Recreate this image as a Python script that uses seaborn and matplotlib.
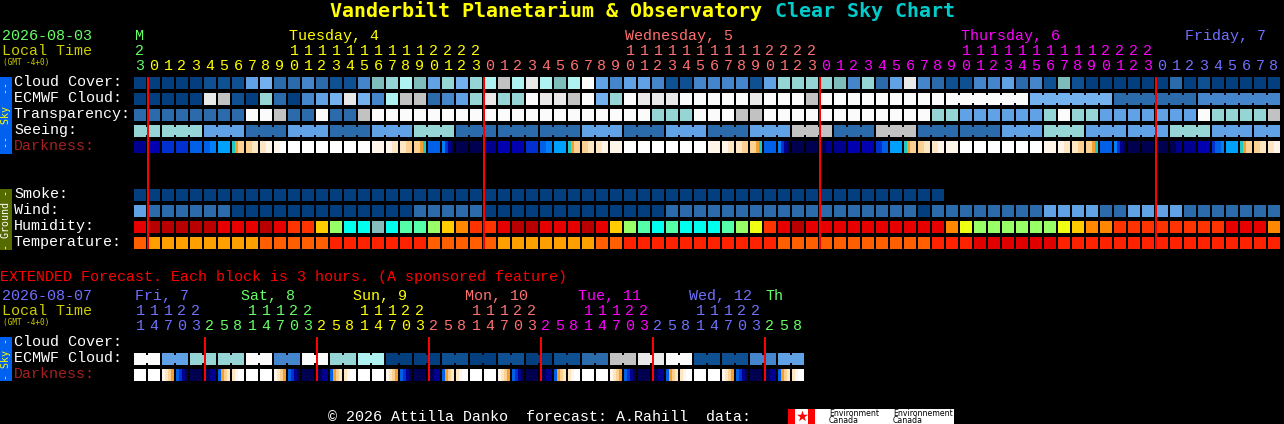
import numpy as np
import seaborn as sns
import matplotlib
matplotlib.use('Agg')
import matplotlib.pyplot as plt
from matplotlib.colors import ListedColormap

W, H = 1284, 424

# forecast rows, one letter per block
cloud_cover = 'AAAAA BBB E F CC D C BB D H G I H E G F G I J I K I H I L E D E E D BB DDDD B E GGGG H D G C E K D C BB DD E C D B H B AAAAAA C A B AAAAA'
ecmwf_cloud = 'AAAAA K J B A G C A D E F K F D I JJ C D E G K GG L KK J L F G L KKK LLLLL K LLL J LLL LLLLLL LLLLLL FFFFFF CCCCCC DDDDDD'
transparency = 'CCCCCCCC LL J CC L CC J LLLL LLLLLLLLLLLLLLLL GGG LLL JJ LLLLLLL LLLLL GG EEEEEE G L GG EEEEEEE L GGGG J'
seeing = 'GG GGG EEE CCC EEE CCC EEE GGG CCC CCC CCC EEE CCC EEE CCC EEE JJJ CCC JJJ CCC CCC EEE GGG EEE EEE GGG EEE EE'
smoke = 'AAAAAAAAAAAAAAAAAAAAAAAAAAAAAAAAAAAAAAAAAAAAAAAAAAAAAAAAAA'
wind = 'E CCCCCC AAAAAAAAAAAAA CCCCC AAAAAAAAAAAAA CCCCCCCCCCCCCC CCCC A CCCCCCCC EEEE CC EEEE CCCCCCC'
humidity = 'b a a a a a b b b a b c c e g i i T i h h g e d c c b a a b b b a b e g h i h i i i h g f c b a b b b b bbbbbb d f gggggg f e d d cccccccc bbb d'
temperature = 'n mmmmmmmm nnnnn ooooooo nnnnn mmmmmmm nn ooooooooooo nnnnnn nnnnn ooo pppppp oooooooooooooooo'
darkness = [
    'bbbb', 'cccc', 'dddd', 'dddd', 'eeee', 'eeff', 'gggg', 'hijj', 'jjkk', 'kkll', 'llmm',
    'mmmm', 'mmmm', 'mmmm', 'mmmm', 'mmmm', 'mmmm', 'llll', 'llkk', 'kkjj', 'jjih', 'eeee', 'fdba', 'aaaa',
    'aaaa', 'bbbb', 'cccc', 'cccc', 'dddd', 'eeff', 'gggg', 'hijj', 'jjkk', 'kkll', 'llll',
    'mmmm', 'mmmm', 'mmmm', 'mmmm', 'mmmm', 'mmmm', 'llll', 'llkk', 'kkjj', 'jjih', 'eeee', 'fdba', 'aaaa',
    'aaaa', 'aabb', 'bbbb', 'cccc', 'cccc', 'ddee', 'gggg', 'hijj', 'jjkk', 'kkll', 'llll',
    'mmmm', 'mmmm', 'mmmm', 'mmmm', 'mmmm', 'mmmm', 'llll', 'llkk', 'kkjj', 'jjih', 'eeee', 'fdba', 'aaaa',
    'aaaa', 'aaaa', 'aabb', 'bbbb', 'cccc', 'deef', 'gggg', 'hijj', 'jjkk', 'kkll',
]
ext_ecmwf = 'LL EE GG GG LL DD LL GG II AA AA BB AA BB AA BB CC JJ KK LL BB BB DD EE'
ext_darkness = [
    'mmmm', 'mmmm', 'lkji', 'edba', 'aaaa', 'aabb', 'eijk', 'klmm',
    'mmmm', 'mmmm', 'lkji', 'edba', 'aaaa', 'aabb', 'eijk', 'klmm',
    'mmmm', 'mmmm', 'lkji', 'edba', 'aaaa', 'aabb', 'eijk', 'klmm',
    'mmmm', 'mmmm', 'lkji', 'edba', 'aaaa', 'aabb', 'eijk', 'klmm',
    'mmmm', 'mmmm', 'lkji', 'edba', 'aaaa', 'aabb', 'eijk', 'klmm',
    'mmmm', 'mmmm', 'lkji', 'edba', 'aaaa', 'aabb', 'eijk', 'klmm',
]

# runs of blocks drawn joined together
seeing_runs = [2] + [3] * 26 + [2]
ecmwf_runs = [1] * 58 + [6, 6, 6, 6]
ext_ecmwf_runs = [2] * 24

# time axis text
hour_tens = '2          11111111112222          11111111112222          11111111112222         '
hour_units = '3012345678901234567890123012345678901234567890123012345678901234567890123012345678'
day_starts = [0, 1, 25, 49, 73]
day_colors = ['#66ff66', '#ffff00', '#ff7070', '#ff00ff', '#7070ff']
top_days = ['M', 'Tuesday, 4', 'Wednesday, 5', 'Thursday, 6', 'Friday, 7']
top_day_idx = [0, 11, 35, 59, 75]
midnights = [1, 25, 49, 73]

ext_units = '147032581470325814703258147032581470325814703258'
ext_tens = '11122   11122   11122   11122   11122   11122'
ext_starts = [0, 5, 13, 21, 29, 37, 45]
ext_colors = ['#7070ff', '#66ff66', '#ffff00', '#ff7070', '#ff00ff', '#7070ff', '#66ff66']
ext_days = ['Fri, 7', 'Sat, 8', 'Sun, 9', 'Mon, 10', 'Tue, 11', 'Wed, 12', 'Th']
ext_day_x = [135, 241, 353, 465, 578, 689, 765]
ext_midnights = [5, 13, 21, 29, 37, 45]

cloud_colors = {'A': '#033f7f', 'B': '#0f5092', 'C': '#2b6bac', 'D': '#4585cb', 'E': '#61a1e5', 'F': '#74b1ef',
                'G': '#95d5d5', 'H': '#7fbdbd', 'I': '#aff2f2', 'J': '#c2c2c2', 'K': '#e9e9e9', 'L': '#fbfbfb'}
humid_colors = {'a': '#b80000', 'b': '#e60000', 'c': '#ff3300', 'd': '#ff8800', 'e': '#ffcc00', 'f': '#eeff11',
                'g': '#99ff66', 'h': '#55ffaa', 'i': '#00ffee', 'T': '#85bdbd'}
temp_colors = {'m': '#ffa000', 'n': '#ff5f00', 'o': '#ff2200', 'p': '#e00000'}
dark_colors = {'a': '#000050', 'b': '#000090', 'c': '#0000b0', 'd': '#0030d0', 'e': '#0060e8', 'f': '#0080f8',
               'g': '#00a0ff', 'h': '#20c8c8', 'i': '#f0a030', 'j': '#fcd090', 'k': '#fde6c4', 'l': '#fff5e8',
               'm': '#ffffff'}

plt.rcParams['font.family'] = ['Liberation Mono', 'DejaVu Sans Mono']

fig = plt.figure(figsize=(W / 100, H / 100), dpi=100, facecolor='black')


def px_axes(x, y, w, h, zorder=1):
    a = fig.add_axes([x / W, 1 - (y + h) / H, w / W, h / H], zorder=zorder)
    a.patch.set_alpha(0)
    a.axis('off')
    return a


def pixel_row(cells, palette, y, n):
    # 14 px pitch: 12 px of block split in 3 px samples, then a 2 px gap
    letters = list(palette)
    vals = np.full((1, n * 14), np.nan)
    for i, cell in enumerate(cells):
        for j, c in enumerate(cell):
            vals[0, i * 14 + j * 3:i * 14 + (j + 1) * 3] = letters.index(c)
    a = px_axes(134, y, n * 14, 12)
    sns.heatmap(vals, ax=a, cmap=ListedColormap(list(palette.values())), vmin=-0.5, vmax=len(letters) - 0.5,
                cbar=False, xticklabels=False, yticklabels=False, antialiased=False)
    a.axis('off')


def block_row(codes, palette, y, n=82):
    pixel_row([c * 4 for c in codes.replace(' ', '')], palette, y, n)


block_row(cloud_cover, cloud_colors, 77)
block_row(ecmwf_cloud, cloud_colors, 93)
block_row(transparency, cloud_colors, 109)
block_row(seeing, cloud_colors, 125)
pixel_row(darkness, dark_colors, 141, 82)
block_row(smoke, cloud_colors, 189)
block_row(wind, cloud_colors, 205)
block_row(humidity, humid_colors, 221)
block_row(temperature, temp_colors, 237)
block_row(ext_ecmwf, cloud_colors, 353, n=48)
pixel_row(ext_darkness, dark_colors, 369, 48)

# everything else lives on one pixel-coordinate overlay
ov = px_axes(0, 0, W, H, zorder=3)


def join_runs(codes, runs, y):
    codes = codes.replace(' ', '')
    i = 0
    for run in runs:
        for k in range(i, i + run - 1):
            ov.bar(134 + 14 * k + 12, 8, width=2, bottom=y + 2, align='edge', color=cloud_colors[codes[k]], lw=0)
        i += run


join_runs(seeing, seeing_runs, 125)
join_runs(ecmwf_cloud, ecmwf_runs, 93)
join_runs(ext_ecmwf, ext_ecmwf_runs, 353)

for m in midnights:
    ov.bar(134 + 14 * m - 1, 172, width=2, bottom=77, align='edge', color='#ff0000', lw=0)
for m in ext_midnights:
    ov.bar(134 + 14 * m, 44, width=2, bottom=337, align='edge', color='#ff0000', lw=0)


def txt(x, y, s, color='white', size=10.8, **kw):
    # y is the text baseline in pixels
    ov.text(x, y, s, color=color, fontsize=size, va=kw.pop('va', 'baseline'), ha=kw.pop('ha', 'left'), **kw)


txt(330, 17, 'Vanderbilt Planetarium & Observatory', '#ffff00', 14.4, fontweight='bold', family='DejaVu Sans Mono')
txt(775, 17, 'Clear Sky Chart', '#00cccc', 14.4, fontweight='bold', family='DejaVu Sans Mono')

txt(2, 40, '2026-08-03', '#66ff66')
txt(2, 55, 'Local Time', '#cccc00')
txt(3, 65, '(GMT -4+0)', '#cccc00', 5.6, family='DejaVu Sans Mono')

for name, idx, c in zip(top_days, top_day_idx, ['#66ff66', '#ffff00', '#ff7070', '#ff00ff', '#7070ff']):
    txt(134 + 14 * idx + 1, 40, name, c)


def day_color(i, starts, colors):
    return colors[np.searchsorted(starts, i, side='right') - 1]


for i, ch in enumerate(hour_units):
    txt(134 + 14 * i + 6, 70, ch, day_color(i, day_starts, day_colors), ha='center')
for i, ch in enumerate(hour_tens):
    if ch != ' ':
        txt(134 + 14 * i + 6, 55, ch, day_color(i, day_starts, day_colors), ha='center')

row_labels = ['Cloud Cover:', 'ECMWF Cloud:', 'Transparency:', 'Seeing:', 'Darkness:']
for k, lab in enumerate(row_labels):
    txt(14, 86 + 16 * k, lab, '#a52020' if lab.startswith('Dark') else 'white')
for k, lab in enumerate(['Smoke:', 'Wind:', 'Humidity:', 'Temperature:']):
    txt(14, 198 + 16 * k, lab)

txt(0, 281, 'EXTENDED Forecast. Each block is 3 hours. (A sponsored feature)', '#ff0000')
txt(2, 300, '2026-08-07', '#7070ff')
txt(2, 315, 'Local Time', '#cccc00')
txt(3, 325, '(GMT -4+0)', '#cccc00', 5.6, family='DejaVu Sans Mono')
for name, x, c in zip(ext_days, ext_day_x, ext_colors):
    txt(x, 300, name, c)
for i, ch in enumerate(ext_units):
    txt(134 + 14 * i + 6, 330, ch, day_color(i, ext_starts, ext_colors), ha='center')
for i, ch in enumerate(ext_tens):
    if ch != ' ':
        txt(134 + 14 * i + 6, 315, ch, ext_colors[i // 8], ha='center')
for k, lab in enumerate(['Cloud Cover:', 'ECMWF Cloud:', 'Darkness:']):
    txt(14, 346 + 16 * k, lab, '#a52020' if lab.startswith('Dark') else 'white')

# side tabs
ov.bar(0, 77, width=12, bottom=77, align='edge', color='#0060f0', lw=0)
ov.bar(0, 61, width=12, bottom=189, align='edge', color='#556b00', lw=0)
ov.bar(0, 44, width=12, bottom=337, align='edge', color='#0060f0', lw=0)
txt(6, 115, '--  Sky  --', '#ffff00', 7.2, rotation=90, ha='center', va='center', family='DejaVu Sans Mono')
txt(6, 220, '- Ground -', 'white', 7.2, rotation=90, ha='center', va='center', family='DejaVu Sans Mono')
txt(6, 359, '- Sky -', '#ffff00', 7.2, rotation=90, ha='center', va='center', family='DejaVu Sans Mono')

# footer and logo
txt(328, 421, '\u00a9 2026 Attilla Danko  forecast: A.Rahill  data:')
ov.bar(788, 15, width=166, bottom=409, align='edge', color='white', lw=0)
ov.bar(788, 15, width=7, bottom=409, align='edge', color='#ff0000', lw=0)
ov.bar(808, 15, width=7, bottom=409, align='edge', color='#ff0000', lw=0)
ov.scatter([801.5], [416], marker='*', s=70, color='#ff0000', lw=0)
for x, top, bottom in [(829, 'Environment', 'Canada'), (893, 'Environnement', 'Canada')]:
    txt(x, 416, top, 'black', 5.6, family='DejaVu Sans')
    txt(x, 423, bottom, 'black', 5.6, family='DejaVu Sans')

ov.set_xlim(0, W)
ov.set_ylim(H, 0)

fig.savefig('out.png', dpi=100, facecolor='black')
